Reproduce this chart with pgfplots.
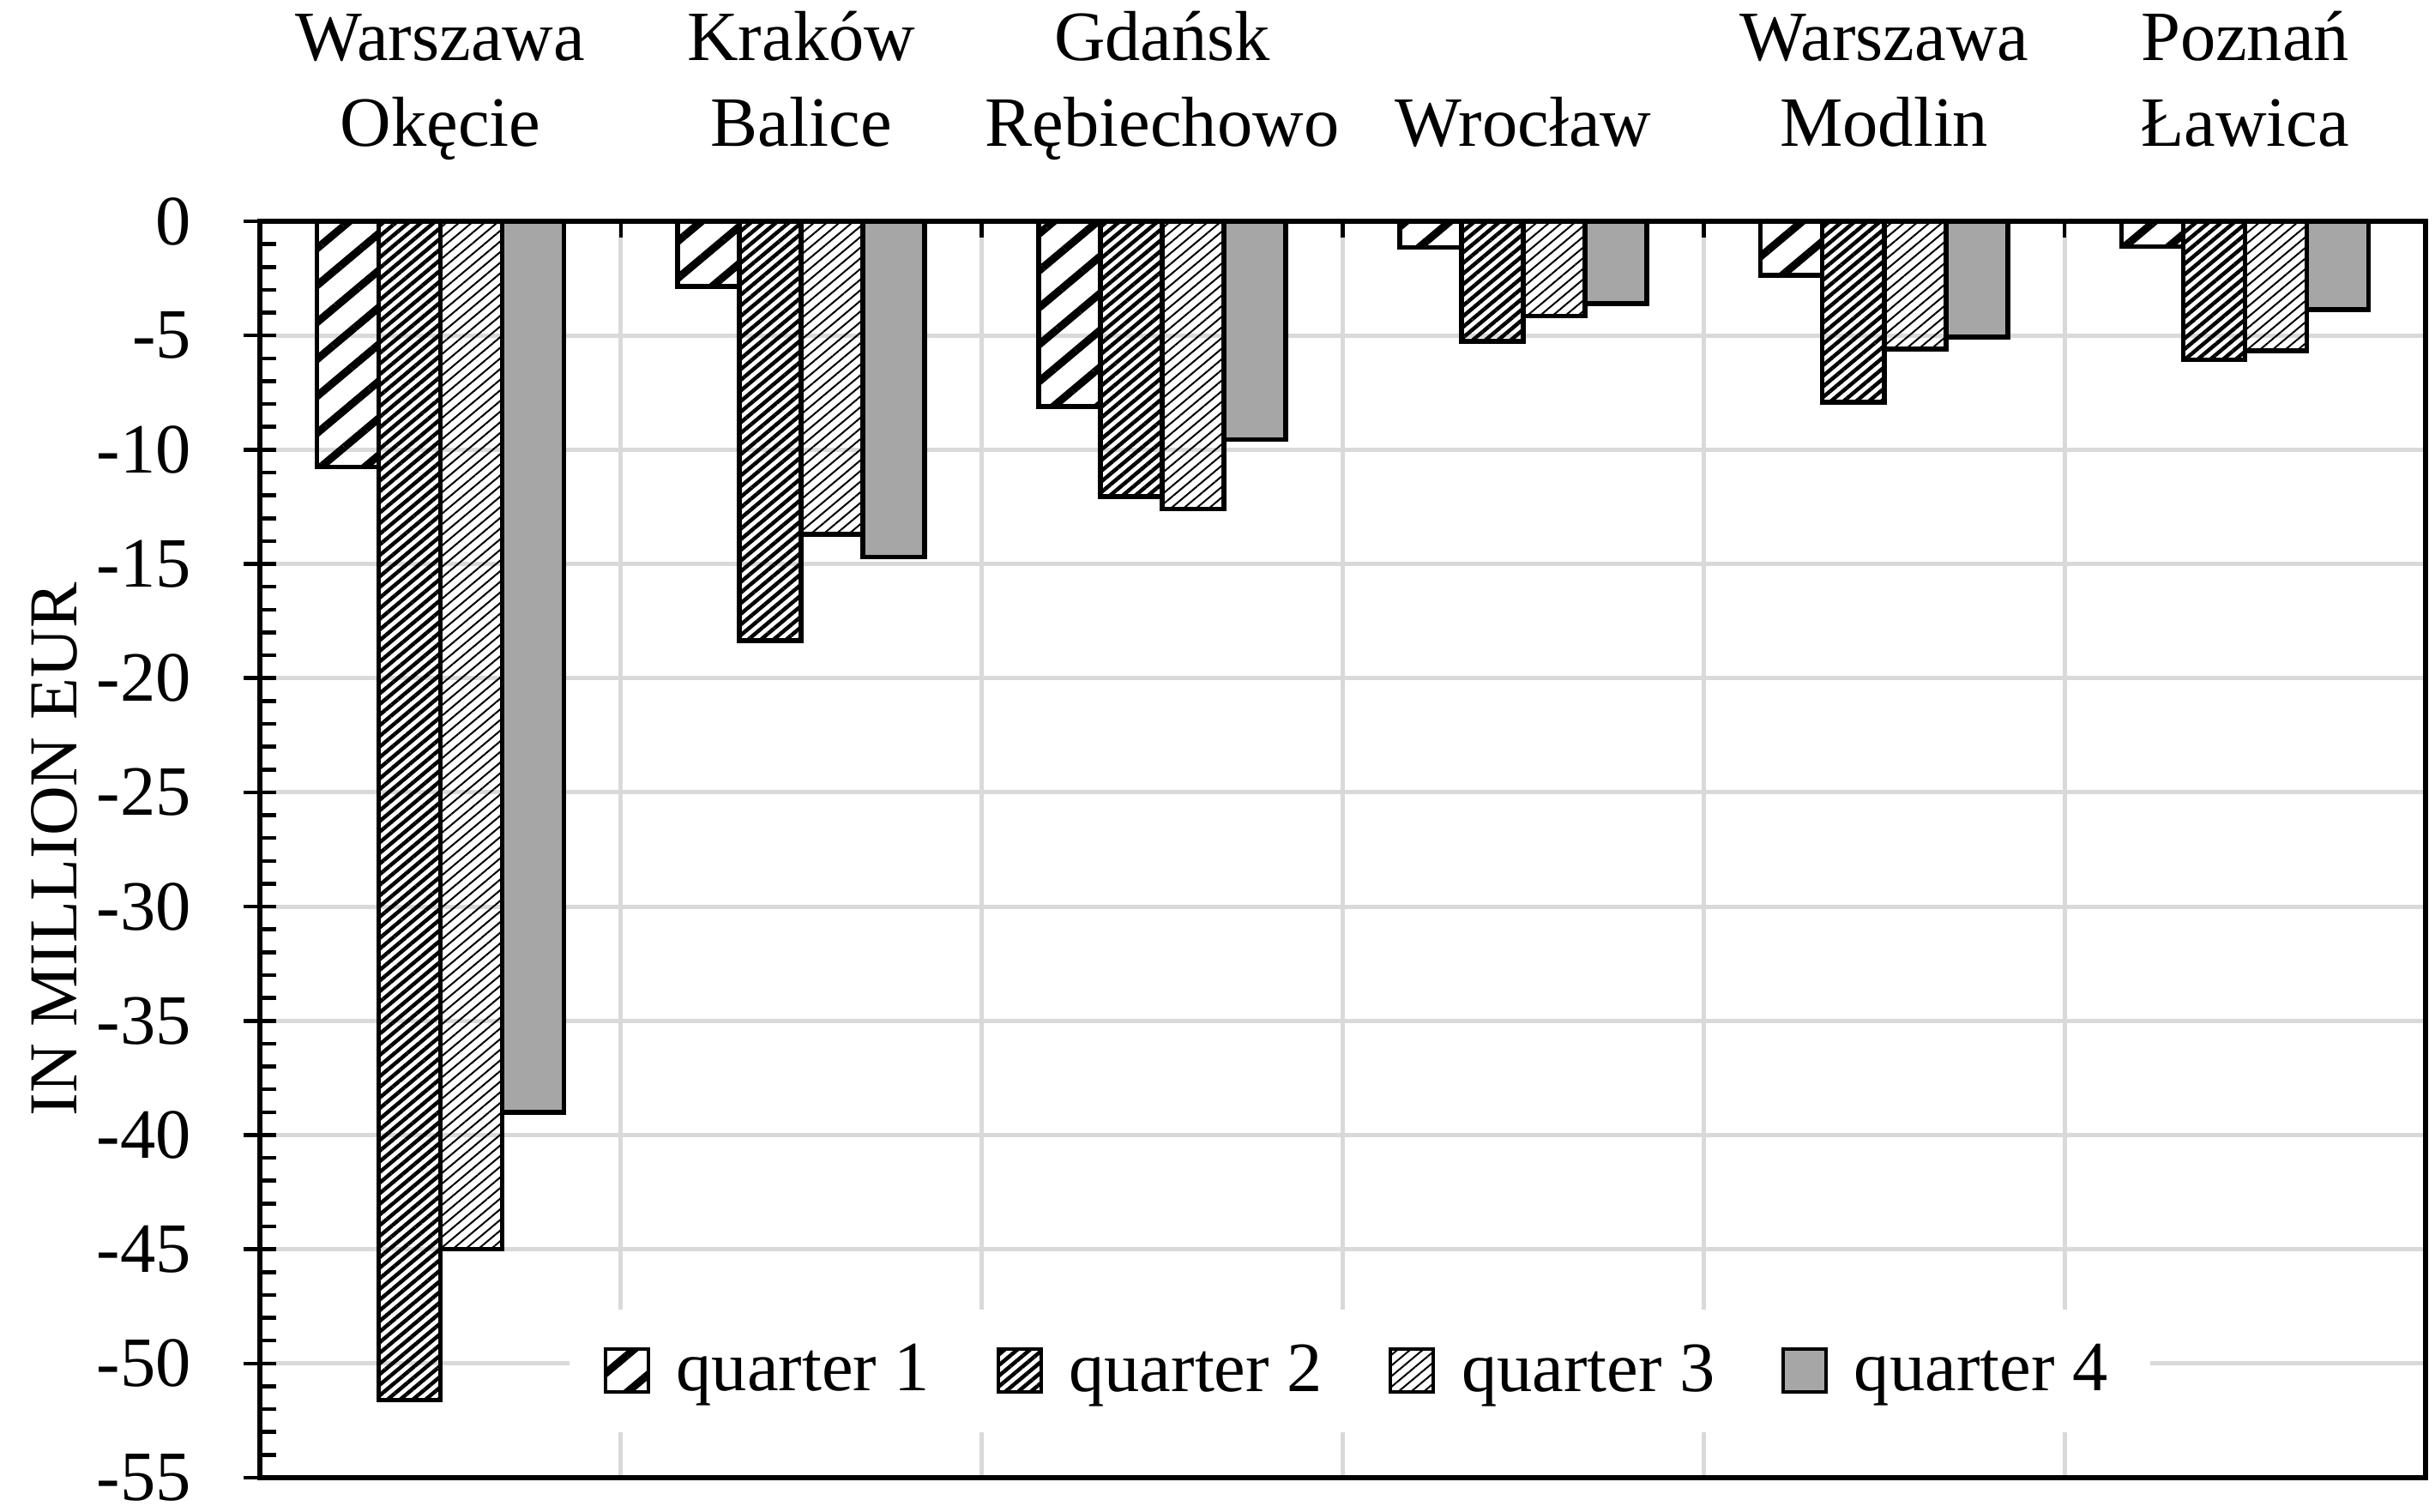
\documentclass[border=0pt]{standalone}
\usepackage{fontspec}
\setmainfont{Liberation Serif}
\usepackage{pgfplots}
\pgfplotsset{compat=1.18}
\usepackage{pgfplotstable}
\usetikzlibrary{patterns.meta}
\definecolor{gridgray}{HTML}{D9D9D9}
\definecolor{barg}{HTML}{A6A6A6}
\pgfplotsset{boxlegend/.style={legend image code/.code={\draw[##1,line width=0.8pt] (0pt,-5pt) rectangle (10pt,5pt); \path (14pt,0pt);}}}
\pgfplotstableread{
x q1 q2 q3 q4
0 -10.75 -51.6 -45.0 -39.0
1 -2.85 -18.35 -13.7 -14.7
2 -8.1 -12.05 -12.6 -9.55
3 -1.15 -5.25 -4.15 -3.6
4 -2.36 -7.92 -5.6 -5.07
5 -1.1 -6.07 -5.67 -3.87
}\datatable
\begin{document}
\begin{tikzpicture}
\begin{axis}[
  at={(0,0)}, anchor=south west,
  scale only axis, width=505pt, height=293pt,
  xmin=-0.5, xmax=5.5, ymin=-55, ymax=0,
  ybar=0pt, bar width=14.4pt,
  axis line style={line width=1.3pt},
  tick align=inside, major tick length=3.8pt, minor tick length=3.8pt,
  tick style={black, line width=0.9pt},
  xtick={0.5,1.5,2.5,3.5,4.5}, xticklabels={},
  xtick pos=upper, xticklabel pos=upper,
  xmajorgrids,
  extra x ticks={0,1,2,3,4,5},
  extra x tick labels={{Warszawa\\Okęcie},{Kraków\\Balice},{Gdańsk\\Rębiechowo},{Wrocław},{Warszawa\\Modlin},{Poznań\\Ławica}},
  extra x tick style={tick style={draw=none}, grid=none, xticklabel pos=upper},
  xticklabel style={align=center, font=\fontsize{16.5}{20}\selectfont, text depth=4pt, yshift=10pt},
  ytick={0,-5,-10,-15,-20,-25,-30,-35,-40,-45,-50,-55},
  yticklabels={0,-5,-10,-15,-20,-25,-30,-35,-40,-45,-50,-55},
  minor y tick num=4,
  ytick pos=left,
  ymajorgrids,
  extra y ticks={0,-5,-10,-15,-20,-25,-30,-35,-40,-45,-50,-55},
  extra y tick labels={},
  extra y tick style={tick align=outside, grid=none},
  yticklabel style={font=\fontsize{16.5}{18}\selectfont, xshift=-12.5pt},
  grid style={gridgray, line width=1pt},
  ylabel={IN MILLION EUR},
  ylabel style={at={(axis description cs:-0.095,0.5)}, anchor=center, font=\fontsize{16}{18}\selectfont},
  legend style={at={(axis description cs:0.508,0.085)}, anchor=center, draw=none, fill=white,
    legend columns=4, font=\fontsize{16.5}{18}\selectfont,
    /tikz/every even column/.append style={column sep=13.5pt}, inner xsep=8pt, inner ysep=6pt},
  every axis plot/.append style={draw=black, line width=1.1pt},
]
\addplot[pattern={Lines[angle=40,distance=6.6pt,line width=1.8pt]}, boxlegend] table[x=x,y=q1] {\datatable};
\addplot[pattern={Lines[angle=40,distance=1.9pt,line width=0.9pt]}, boxlegend] table[x=x,y=q2] {\datatable};
\addplot[pattern={Lines[angle=40,distance=1.9pt,line width=0.4pt]}, boxlegend] table[x=x,y=q3] {\datatable};
\addplot[fill=barg, boxlegend] table[x=x,y=q4] {\datatable};
\legend{quarter 1,quarter 2,quarter 3,quarter 4}
\end{axis}
\pgfresetboundingbox
\useasboundingbox (-60.6pt,-8pt) rectangle (507.2pt,344.6pt);
\end{tikzpicture}
\end{document}
